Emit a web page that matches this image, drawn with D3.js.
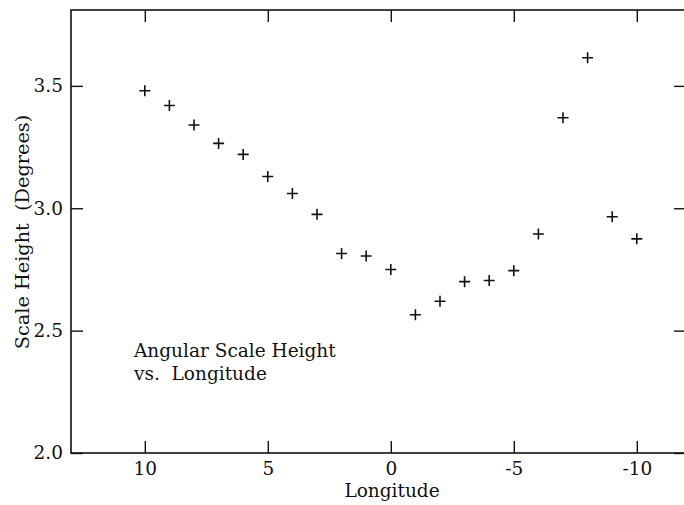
<!DOCTYPE html>
<html><head><meta charset="utf-8">
<script src="https://cdn.jsdelivr.net/npm/d3@7"></script>
<style>body{margin:0;background:#fff}svg{display:block}text{font-family:"DejaVu Serif",serif;fill:#111}</style>
</head><body><svg id="c" width="684" height="505"></svg>
<script>
const longitude = [10,9,8,7,6,5,4,3,2,1,0,-1,-2,-3,-4,-5,-6,-7,-8,-9,-10];
const scaleHeight = [3.48,3.42,3.34,3.265,3.22,3.13,3.06,2.975,2.815,2.805,2.75,2.565,2.62,2.70,2.705,2.745,2.895,3.37,3.615,2.965,2.875];
const xTicks = [10,5,0,-5,-10];
const yTicks = [2.0,2.5,3.0,3.5];
const xTitle = "Longitude";
const yTitle = "Scale Height  (Degrees)";
const note = ["Angular Scale Height", "vs.  Longitude"];

const svg = d3.select("#c");
const L=71, R=686, T=10, B=453;
const x = d3.scaleLinear().domain([13,-12]).range([L,R]);
const y = d3.scaleLinear().domain([2.0,3.81]).range([B,T]);
const col="#111";
const g = svg.append("g");
// frame
g.append("rect").attr("x",L).attr("y",T).attr("width",R-L).attr("height",B-T)
 .attr("fill","none").attr("stroke",col).attr("stroke-width",1.6);
// axes
const tl=12;
const bx = svg.append("g").attr("transform",`translate(0,${B})`)
 .call(d3.axisBottom(x).tickValues(xTicks).tickSize(-tl).tickPadding(9).tickFormat(d=>String(d)));
const tx = svg.append("g").attr("transform",`translate(0,${T})`)
 .call(d3.axisTop(x).tickValues(xTicks).tickSize(-tl).tickFormat(""));
const ly = svg.append("g").attr("transform",`translate(${L},0)`)
 .call(d3.axisLeft(y).tickValues(yTicks).tickSize(-tl).tickPadding(8).tickFormat(d=>d.toFixed(1)));
const ry = svg.append("g").attr("transform",`translate(${R},0)`)
 .call(d3.axisRight(y).tickValues(yTicks).tickSize(-tl).tickFormat(""));
[bx,tx,ly,ry].forEach(a=>{
  a.select(".domain").remove();
  a.selectAll(".tick line").attr("stroke",col).attr("stroke-width",1.4);
  a.selectAll(".tick text").style("font-family","DejaVu Serif").style("font-size","18.5px").attr("fill",col);
});
// points as plus signs
const s=5.5;
svg.append("g").selectAll("path").data(longitude.map((d,i)=>[d,scaleHeight[i]])).join("path")
 .attr("d",d=>{const px=x(d[0]),py=y(d[1]);return `M${px-s},${py}H${px+s}M${px},${py-s}V${py+s}`;})
 .attr("stroke",col).attr("stroke-width",1.6).attr("fill","none");
// titles
svg.append("text").attr("x",392).attr("y",497).attr("text-anchor","middle").style("font-size","18.5px").text(xTitle);
svg.append("text").attr("transform","translate(29,232) rotate(-90)").attr("text-anchor","middle").style("font-size","19.3px").style("white-space","pre").text(yTitle);
svg.append("text").attr("x",134).attr("y",357).style("font-size","18.5px").style("white-space","pre").text(note[0]);
svg.append("text").attr("x",134).attr("y",380).style("font-size","18.5px").style("white-space","pre").text(note[1]);
</script></body></html>
